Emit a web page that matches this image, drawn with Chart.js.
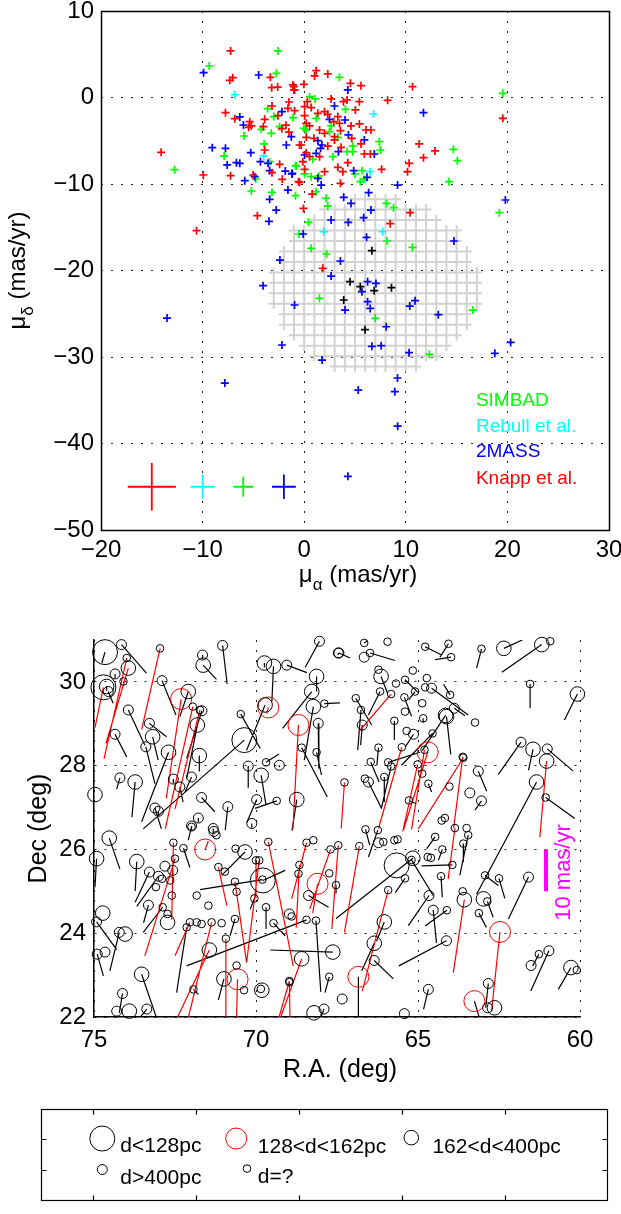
<!DOCTYPE html>
<html>
<head>
<meta charset="utf-8">
<title>Proper motions</title>
<script src="https://cdn.jsdelivr.net/npm/chart.js@4.4.1/dist/chart.umd.min.js"></script>
<style>
  html, body { margin: 0; padding: 0; background: #fff; }
  body { position: relative; width: 621px; height: 1214px; overflow: hidden; }
  canvas { position: absolute; left: 0; }
</style>
</head>
<body>
<canvas id="pmPlot" width="621" height="600" style="top:0"></canvas>
<canvas id="skyPlot" width="621" height="495" style="top:600px"></canvas>
<canvas id="keyBox" width="621" height="119" style="top:1095px"></canvas>
<script>
// ---------- proper-motion plane (mas/yr) ----------
const simbad = [[-2.58,5.38],[-9.35,3.64],[-2.75,2.79],[3.47,2.33],[-3.6,-1.29],[19.55,0.48],[0.53,0.1],[1.08,-0.17],[-3.0,-2.2],[-1.11,-2.33],[4.06,-1.37],[1.18,-2.41],[-4.22,-3.68],[-2.42,-3.37],[2.65,-3.29],[-0.03,-3.56],[0.2,-3.76],[-3.24,-4.14],[-5.92,-4.45],[2.49,-3.95],[3.31,-4.6],[-3.95,-5.37],[4.78,-5.61],[7.39,-5.11],[7.49,-6.07],[4.22,-6.26],[4.78,-6.26],[-7.88,-6.76],[2.82,-6.84],[0.85,-7.15],[-0.78,-7.92],[-12.78,-8.34],[-3.4,-7.42],[-0.85,-7.88],[14.68,-5.99],[15.07,-7.3],[14.25,-9.73],[5.69,-8.46],[5.0,-8.84],[5.53,-9.73],[5.92,-9.46],[0.04,-8.84],[0.69,-9.15],[1.44,-9.07],[-4.77,-9.42],[-5.2,-10.81],[-3.17,-10.97],[-0.85,-11.35],[1.17,-10.89],[2.15,-11.66],[2.32,-12.55],[19.21,-13.32],[8.1,-12.24],[8.79,-12.74],[0.42,-14.43],[-0.52,-15.78],[8.14,-16.59],[10.65,-17.32],[0.68,-17.44],[2.19,-18.09],[1.5,-23.22],[16.6,-24.57],[6.99,-25.53],[12.32,-29.69]];
const rebull = [[-6.83,0.33],[6.83,-1.91],[-3.99,-6.76],[6.48,-8.57],[1.93,-15.51],[7.71,-15.51]];
const twoMass = [[-9.9,2.87],[-4.48,2.6],[4.29,0.87],[-2.19,-1.64],[2.98,-0.98],[11.74,-1.75],[-6.34,-2.25],[-5.98,-3.18],[2.49,-2.52],[4.02,-2.6],[-1.27,-4.53],[-1.76,-5.49],[4.35,-4.33],[5.92,-4.91],[1.34,-4.99],[1.74,-5.49],[1.61,-5.88],[1.18,-6.45],[0.04,-6.65],[3.37,-6.26],[6.9,-6.53],[-9.05,-5.8],[-7.75,-5.88],[-5.26,-6.38],[-7.58,-7.8],[-6.67,-7.53],[-6.34,-7.61],[-4.31,-7.42],[-3.56,-7.61],[-3.4,-8.46],[-1.86,-8.5],[-1.21,-8.84],[-4.87,-9.15],[-5.85,-9.61],[4.87,-8.46],[6.18,-9.23],[1.34,-9.34],[1.67,-10.12],[9.19,-10.12],[-1.17,-8.77],[-3.4,-11.77],[-1.6,-10.7],[3.89,-11.54],[4.61,-12.24],[6.34,-11.0],[19.8,-11.85],[6.57,-13.01],[-2.75,-13.01],[-3.47,-14.32],[2.65,-14.16],[4.34,-14.43],[5.85,-13.89],[-0.1,-15.78],[6.14,-16.17],[14.74,-16.59],[3.56,-18.9],[-2.39,-18.79],[2.65,-20.64],[-4.05,-21.76],[6.24,-21.29],[7.06,-21.49],[5.68,-22.45],[6.24,-23.6],[6.5,-24.38],[-0.95,-23.99],[4.02,-24.57],[10.91,-23.49],[10.39,-24.11],[13.2,-25.11],[8.07,-26.5],[-2.19,-28.61],[6.66,-28.77],[7.58,-28.69],[10.32,-29.5],[18.76,-29.58],[20.32,-28.31],[1.76,-30.35],[-7.81,-33.01],[9.18,-32.43],[5.32,-33.82],[8.92,-34.01],[-13.5,-25.5],[9.2,-38.0],[4.3,-43.8]];
const knapp = [[-7.25,5.38],[-3.33,2.33],[-7.03,2.29],[-7.32,1.99],[-3.2,1.14],[-2.61,1.21],[-1.11,1.45],[-0.95,0.87],[1.18,3.1],[2.32,2.72],[1.02,2.49],[4.55,1.64],[5.59,1.37],[-0.03,1.52],[10.66,1.25],[8.21,-0.33],[2.65,-0.17],[4.22,-0.29],[3.86,-0.48],[5.43,-0.48],[-1.5,-0.52],[-3.17,-0.98],[-1.6,-1.25],[-0.95,-1.52],[-7.75,-1.75],[-6.83,-2.45],[-2.58,-2.1],[-3.89,-2.52],[-4.02,-3.37],[-5.36,-2.79],[-5.2,-3.29],[-5.46,-3.45],[0.04,-1.06],[0.3,-0.48],[0.69,-1.17],[5.04,-1.44],[19.55,-2.41],[0.04,-2.1],[1.34,-1.83],[2.0,-1.64],[2.32,-1.95],[3.31,-2.21],[2.91,-2.79],[3.47,-2.99],[4.61,-3.29],[5.43,-3.06],[6.08,-3.76],[6.57,-3.76],[0.2,-2.99],[0.53,-3.29],[1.51,-3.76],[2.0,-4.14],[2.98,-4.53],[3.57,-3.83],[4.68,-4.72],[0.2,-4.6],[0.95,-4.72],[-0.29,-5.49],[0.2,-6.38],[5.59,-5.37],[2.32,-5.61],[2.98,-4.91],[3.63,-5.76],[5.92,-6.53],[6.51,-6.53],[1.51,-6.84],[0.53,-6.84],[-0.13,-7.42],[10.33,-7.61],[11.31,-5.37],[12.88,-6.18],[11.74,-6.96],[10.17,-8.57],[4.29,-7.53],[7.62,-8.3],[3.31,-8.07],[3.8,-8.57],[2.0,-8.57],[0.04,-8.3],[-0.45,-9.81],[3.57,-9.92],[-14.08,-6.34],[-0.46,-5.49],[-3.89,-6.07],[-2.42,-7.73],[-3.17,-8.69],[-9.93,-8.96],[-7.25,-9.04],[-5.03,-8.96],[-2.16,-9.46],[-0.56,-9.73],[-1.01,1.25],[-1.01,0.87],[0.78,-11.16],[10.42,-13.32],[-0.07,-12.82],[-4.61,-13.66],[8.46,-14.59],[1.83,-19.75],[-10.6,-15.4],[-2.2,-3.6],[-1.5,-4.0],[-1.8,-3.2]];
const clusterGroup = [[6.66,-17.71],[4.51,-21.29],[5.52,-21.87],[6.89,-22.33],[8.59,-21.99],[3.89,-23.41],[5.98,-26.84]];

// typical errors per catalogue: Knapp, Rebull, SIMBAD, 2MASS
const errCentreX = [-15, -10, -6, -2];
const errCentreY = -45;
const errHalfX = [2.37, 1.17, 0.97, 1.17];
const errHalfY = [2.76, 1.39, 1.16, 1.41];

const surveyNames = ['SIMBAD', 'Rebull et al.', '2MASS', 'Knapp et al.'];

// region of the moving group in the pm plane
const fieldCentre = [7, -21.9];
const fieldRadius = 10.4;

const pmTicksX = [-20, -10, 0, 10, 20, 30];
const pmTicksY = [10, 0, -10, -20, -30, -40, -50];

// ---------- sky positions: [RA deg, Dec deg, pmRA, pmDec (mas/yr), Knapp pm?] ----------
const nearStars = [[74.66,30.71,1.0,-2.6,0],[74.71,29.87,2.6,-9.6,1],[70.36,28.61,31.2,-21.2,0],[69.79,25.26,-6.9,2.4,0],[65.66,25.62,0,0,0]];
const taurusStars = [[72.31,29.59,4.6,-23.7,1],[69.62,29.39,0.5,-1.5,1],[68.69,28.97,1.7,-24.8,1],[64.70,28.32,7.5,-18.6,1],[70.57,22.90,0.3,-9.6,1],[68.10,25.18,1.5,-7,1],[71.57,26.00,-1,2,1],[66.84,22.96,0,-9.8,0],[62.47,24.03,2.6,-19,1],[63.26,22.38,-1.7,-4.4,0]];
const midStars = [[74.61,29.89,0,-1,0],[73.94,30.33,6.9,-18.0,1],[73.19,28.69,-1.7,-5.6,0],[72.70,28.32,8.3,-16.6,0],[72.09,29.77,2.6,-6.0,0],[71.63,30.40,-4.1,-3.4,0],[71.81,28.97,3.3,-12.8,0],[71.75,28.24,0,-3.8,0],[69.74,30.45,0,-1,0],[69.46,30.37,0.5,-8.4,0],[68.13,30.13,0,-3.6,0],[68.28,29.77,9,-8.8,0],[68.23,29.41,2.8,-12.8,0],[69.72,29.45,5.7,-10.8,0],[68.74,27.19,1.5,-7.4,0],[69.84,27.77,-1.5,-7.2,0],[73.73,27.61,1,-8.4,0],[74.97,27.31,0,0,0],
  [62.35,30.80,-5.7,2,0],[61.18,30.89,12.3,-6.6,0],[66.14,30.13,-2,-4,0],[64.12,29.17,-1.3,-9,0],[64.15,29.20,7.2,-8.4,0],[60.08,29.71,4,-6.2,0],[61.45,28.39,1.4,-5,0],[61.03,28.11,2.1,-18.2,1],[61.34,27.61,18.5,-26.8,0],
  [74.53,26.27,-3.3,-7.4,0],[74.92,25.78,0.5,-6.8,0],[73.68,25.71,0.5,-7,0],[74.73,24.48,0,0,0],[74.04,23.98,0,0,0],[73.53,23.02,-4.6,-10.4,0],[73.91,22.14,0,0,0],[72.73,24.26,0,0,0],[71.44,23.60,9.9,-16.2,1],[70.99,22.91,1.7,-5,0],[69.82,22.64,0,0,0],[68.59,23.39,6.7,-14.4,1],[67.63,23.55,19.3,0.5,0],[68.21,22.10,0,0,0],[70.34,25.94,7.2,-5.6,0],
  [65.16,25.79,23.7,-14.4,0],[66.04,24.27,2.4,-4.6,0],[66.35,23.76,3.9,-6.6,0],[63.57,24.80,3.4,-17.4,1],[62.98,24.82,0,0,0],[62.64,22.22,0,0,0],[60.28,23.18,3.9,-5.2,0]];
const farStars = [[74.15,30.89,-7.7,-6.8,0],[74.35,30.19,0,-1,0],[74.56,29.77,-1.5,-2.8,0],[74.35,28.75,-3.6,-5.4,0],[73.94,29.33,-5.1,-8.4,0],[73.29,29.01,-5.3,-3.2,0],[73.40,28.45,-2.8,-8.8,0],[72.90,30.03,-4.3,-8.2,0],[71.65,30.64,0,-1,0],[71.67,29.31,4.7,-11.4,0],[71.99,27.73,2,-3.6,0],[72.35,27.49,-1,-3.6,0],[72.55,27.68,0,-1,0],[73.12,26.99,-2,-5,0],[73.01,26.91,0,-1,0],[71.03,30.87,-1.4,-9.2,0],[69.05,30.40,-6.2,-1.8,0],[68.04,30.97,4.4,-6.2,0],[68.08,29.01,-0.2,-10.8,0],[67.46,30.69,0,-0.5,0],[70.24,27.99,0,-5.2,0],[69.28,28.01,0,-0.5,0],[69.98,27.19,3,-5.4,0],[70.87,27.02,0.8,-5.6,0],[71.68,27.24,-4.1,-3.4,0],[74.20,27.71,1,-2.7,0],[71.78,26.75,0,-1,0],[71.99,26.56,0,-1,0],[71.32,26.50,0,-1,0],[70.13,26.62,0,-1,0],
  [67.44,30.69,-3.4,-1.2,0],[66.66,30.59,0,0,0],[64.58,29.85,-11.3,-6.4,0],[66.72,28.97,0.5,-4.8,0],[63.88,29.37,-3.3,-1.8,0],[65.14,28.75,2.5,-3,0],[66.53,27.61,-4.1,-6.4,0],[63.14,27.87,-2.6,-4.8,0],[63.40,27.35,0,0,0],[63.04,27.16,2,-2.2,0],[61.82,28.56,7,-7.7,0],[61.01,28.40,-8,-5.3,0],
  [73.29,25.46,4.4,-7.2,0],[72.81,25.60,0,0,0],[73.01,25.36,6.7,-7.2,0],[72.57,25.50,0,-3,0],[73.32,24.67,1.5,-4.2,0],[74.92,24.27,-6.2,-6.6,0],[74.22,24.02,2.9,-9.2,0],[74.90,23.50,-1.9,-5.2,0],[74.66,23.55,0,0,0],[74.12,22.56,1,-4.6,0],[74.30,22.14,0,0,0],[73.37,22.19,2.3,-2.2,0],[67.90,22.19,1.2,-2.4,0],[68.97,24.46,0,0,0],[68.38,24.90,-6.2,-2.8,0],[71.30,26.43,0,0,0],
  [66.22,26.16,0,0,0],[64.66,24.90,6.4,-7.2,0],[64.53,24.55,-1,-7.8,0],[66.35,23.35,-5.9,-4.4,0],[64.12,23.82,14.7,-6,0],[61.59,25.34,6.2,-10,0],[62.83,22.80,0.8,-5.8,0],[62.85,22.22,0,0,0],[64.68,22.66,1.5,-4.8,0],[67.34,22.43,0,0,0],[65.42,22.08,0,0,0],[61.51,23.23,0,0,0],[60.96,23.58,5.6,-9.6,0]];
const unknownStars = [[73.99,30.57,7.0,-24.1,1],[74.09,30.01,0,-0.5,0],[72.96,30.80,5.7,-19.4,1],[71.95,29.41,8.5,-29.2,1],[71.73,29.33,7.7,-23.6,1],[67.89,29.48,-4.8,0.2,0],[70.47,29.23,-6,-8.2,0],[68.59,28.43,-7.9,-11.8,0],[68.13,28.32,-1.5,-5.4,0],[69.69,28.08,-4,2,0],[69.36,27.16,6.7,-1.8,0],
  [66.66,30.93,-1,0.5,0],[65.94,30.96,0,0,0],[66.48,30.69,-7.7,-1.8,0],[64.78,30.84,-5.1,-2,0],[64.06,30.91,2.6,-3.2,0],[63.98,30.59,4.9,-0.6,0],[63.04,30.79,1.5,-4.6,0],[60.92,30.97,0,0,0],[66.22,30.29,0,0,0],[65.16,30.27,0,0,0],[65.40,30.05,-4,-3,0],[65.68,29.96,0,0,0],[64.73,30.09,0,0,0],[64.78,29.87,0,0,0],[65.09,29.77,2,-2,0],[64.01,29.69,2,2.5,0],[61.54,29.95,0,-5.8,0],[66.92,29.61,-4.9,-6.4,0],[66.76,29.33,1,-9.6,0],[65.83,29.71,10,-9,1],[66.17,29.77,3.6,-5.6,0],[65.42,29.63,-2.2,-4.5,0],[65.40,29.29,0,0,0],[64.87,29.49,0,0,0],[64.84,29.13,0,-1,0],[63.24,29.03,0,0,0],[65.73,29.07,0,-4.6,0],[65.35,28.83,0,0,0],[64.55,28.77,9.6,-7.6,0],[64.80,28.38,4,-19,1],[63.60,28.19,13.9,-17,1],[63.62,28.21,2.8,-17,1],[65.50,28.44,7.2,-19.4,1],[66.22,28.43,0.5,-4.2,0],[66.46,28.09,-2.6,-4.8,0],[65.92,28.08,-9.8,2.4,0],[65.83,27.98,3,-10,0],[66.04,27.73,0,-6,0],[66.64,27.69,0,0,0],[67.27,27.60,1,-11,1],[65.01,28.03,4.6,-16,1],[64.87,27.81,0,0,0],[64.68,27.57,-1,-2,0],[65.28,27.17,-2.3,-0.8,0],[64.03,27.50,0,0,0],[61.06,27.24,-9,-5,0],[64.17,26.75,0,0,0],[64.27,26.69,0,0,0],
  [72.90,25.30,0,0,0],[73.09,25.10,0,0,0],[72.65,25.26,0,0,0],[72.60,24.90,0,0,0],[72.88,24.62,6,-6,0],[72.73,24.46,0,0,0],[71.83,24.90,0,0,0],[72.14,24.14,3.1,-15.6,0],[72.04,24.26,4.6,-8,1],[71.83,24.26,0,0,0],[71.68,24.22,0,0,0],[71.47,24.66,0,0,0],[71.06,24.24,0,0,0],[71.37,24.26,7.2,-22.8,1],[70.93,23.87,0,-19.4,1],[70.65,24.34,1.5,-4,0],[70.60,23.23,0,0,0],[70.37,22.64,0,0,0],[69.85,22.67,0,0,0],[71.93,22.66,-1.5,-1.2,0],[68.97,22.86,3.4,-9.2,1],[68.97,22.83,-0.2,-9.2,1],[67.74,22.96,1.3,-3.8,0],[69.69,24.62,0,-5.2,0],[69.46,24.24,-3.6,-3,0],[68.90,24.40,0,0,0],[68.44,24.32,37,-11,0],[68.15,24.30,-1.5,-17,0],[67.74,25.43,0,0,0],[67.53,25.15,0,-2,0],[67.70,26.00,6.4,-14.2,1],[68.44,26.16,4.6,-13.4,1],[68.23,26.22,0,0,0],[68.69,25.42,0,0,0],[68.66,25.63,1,-15,1],[69.90,25.74,3.9,-24.4,1],[70.00,25.74,0,-9,1],[70.05,24.83,1.3,-2.6,0],[69.80,25.28,19.3,-2.4,0],[69.62,26.18,-7.7,-29.6,1],[70.65,25.23,-3.6,-19.3,1],[70.60,24.99,0,0,0],[70.63,26.02,0,0,0],[71.16,25.58,-2.6,-9.2,1],[70.96,25.47,0,0,0],[72.24,26.03,-2,-4.6,0],[72.55,26.16,0.5,-18.4,1],[72.50,25.78,9.3,-23.2,1],[71.99,26.54,1,-3.2,0],[71.22,26.34,0,0,0],
  [66.62,26.48,-1.3,-3.8,0],[66.24,26.46,2.9,-6.4,0],[66.07,26.18,0,0,0],[65.73,26.22,0,0,0],[65.63,26.24,0,0,0],[67.46,26.10,2,-20,1],[66.81,26.08,4.6,-20.6,1],[65.20,25.75,-6.7,-8.5,0],[64.47,26.30,2.6,-2.8,0],[64.25,26.00,1.2,-2.6,0],[64.70,25.82,0,0,0],[64.60,25.80,0,0,0],[63.94,25.63,9.5,-0.2,0],[63.86,26.51,2.1,-12.2,1],[64.29,25.36,-0.4,-5,0],[63.50,26.51,0,0,0],[63.45,26.34,2.6,-9.6,0],[63.60,26.14,0,-4.4,0],[65.40,25.31,3,-3.4,0],[65.92,25.03,8,-24.1,1],[64.11,24.55,6.7,-3.8,0],[63.62,25.00,0,0,0],[62.93,25.38,-4.1,-2.4,0],[62.50,25.31,-1.8,-4.8,0],[62.86,24.76,-1.8,-3.8,0],[63.12,24.48,-2.3,-3.4,0],[61.27,23.50,1.9,-2.8,0],[60.10,23.12,0,0,0]];

const raTicks = [75, 70, 65, 60];
const decTicks = [22, 24, 26, 28, 30];
const scaleBarRa = 61.05;
const scaleBarDec = [25, 26];   // 10 mas/yr
const scaleBarText = '10 mas/yr';

const distanceLabels = ['d<128pc', '128<d<162pc', '162<d<400pc', 'd>400pc', 'd=?'];

// ---------- styling ----------
const FONT = '"Liberation Sans", Arial, Helvetica, sans-serif';
Chart.defaults.font.family = FONT;
Chart.defaults.color = '#000';
Chart.defaults.animation = false;
Chart.defaults.responsive = false;
Chart.defaults.plugins.legend.display = false;
Chart.defaults.plugins.tooltip.enabled = false;

const surveyColors = ['#00ff00', '#00ffff', '#0000ff', '#ff0000'];
const errColors = ['#ff0000', '#00ffff', '#00ff00', '#0000ff'];
const classRadius = [12.5, 10.5, 7.3, 5, 3.8];
const classColor = ['#000', '#ff0000', '#000', '#000', '#000'];
const MAGENTA = '#ff00ff';
const GRID = '#222';

const minus = v => (v < 0 ? '\u2212' + Math.abs(v) : String(v));
const toPts = rows => rows.map(([x, y]) => ({ x, y }));
const fixWidth = w => s => { s.width = w; s.paddingTop = 0; s.paddingBottom = 0; };
const fixHeight = h => s => { s.height = h; s.paddingLeft = 0; s.paddingRight = 0; };
const useTicks = list => s => { s.ticks = list.map(value => ({ value })); };

// text with an optional subscript part, centred on (x, y baseline)
function drawLabel(ctx, parts, x, y, size, angle = 0, color = '#000') {
  ctx.save();
  ctx.translate(x, y);
  ctx.rotate(angle);
  ctx.fillStyle = color;
  ctx.textBaseline = 'alphabetic';
  ctx.textAlign = 'left';
  const fontOf = sub => `${sub ? Math.round(size * 0.72) : size}px ${FONT}`;
  let width = 0;
  parts.forEach(([t, sub]) => { ctx.font = fontOf(sub); width += ctx.measureText(t).width; });
  let cx = -width / 2;
  parts.forEach(([t, sub]) => {
    ctx.font = fontOf(sub);
    ctx.fillText(t, cx, sub ? size * 0.32 : 0);
    cx += ctx.measureText(t).width;
  });
  ctx.restore();
}

// ---------- top: proper motion plane ----------
const crossSet = (rows, color) => ({
  data: toPts(rows), pointStyle: 'cross', pointRadius: 4, pointBorderWidth: 1.7,
  pointBorderColor: color, pointBackgroundColor: color, clip: false,
});

function errorBars(i) {
  const cx = errCentreX[i], cy = errCentreY;
  return {
    data: [{ x: cx - errHalfX[i], y: cy }, { x: cx + errHalfX[i], y: cy }, { x: null, y: null },
           { x: cx, y: cy - errHalfY[i] }, { x: cx, y: cy + errHalfY[i] }],
    showLine: true, spanGaps: false, pointRadius: 0, borderWidth: 1.8,
    borderColor: errColors[i], clip: false,
  };
}

const pmDecor = {
  id: 'pmDecor',
  beforeDatasetsDraw(chart) {
    const { ctx, scales: { x, y } } = chart;
    const hx = Math.abs(x.getPixelForValue(0.5) - x.getPixelForValue(0));
    const hy = Math.abs(y.getPixelForValue(0.605) - y.getPixelForValue(0));
    ctx.save();
    ctx.strokeStyle = '#d2d2d2';
    ctx.lineWidth = 2;
    ctx.beginPath();
    for (let gx = -3; gx <= 17.5; gx += 1) {
      for (let gy = -11.75; gy >= -32.5; gy -= 1.21) {
        const dx = gx - fieldCentre[0], dy = gy - fieldCentre[1];
        if (dx * dx + dy * dy > fieldRadius * fieldRadius) continue;
        const px = x.getPixelForValue(gx), py = y.getPixelForValue(gy);
        ctx.moveTo(px - hx, py); ctx.lineTo(px + hx, py);
        ctx.moveTo(px, py - hy); ctx.lineTo(px, py + hy);
      }
    }
    ctx.stroke();
    ctx.restore();
  },
  afterDraw(chart) {
    const { ctx, chartArea: a, scales: { x, y } } = chart;
    ctx.save();
    ctx.strokeStyle = '#000';
    ctx.lineWidth = 1.5;
    ctx.strokeRect(Math.round(a.left) + 0.5, Math.round(a.top) + 0.5,
      Math.round(a.right - a.left), Math.round(a.bottom - a.top));
    ctx.font = `19px ${FONT}`;
    ctx.textBaseline = 'middle';
    ctx.textAlign = 'left';
    const rowsY = [-35.05, -38.1, -41.0, -44.1];
    surveyNames.forEach((name, i) => {
      ctx.fillStyle = surveyColors[i];
      ctx.fillText(name, x.getPixelForValue(16.9), y.getPixelForValue(rowsY[i]));
    });
    ctx.restore();
    drawLabel(ctx, [['\u03bc', 0], ['\u03b1', 1], [' (mas/yr)', 0]], (a.left + a.right) / 2 + 3, 582, 24);
    drawLabel(ctx, [['\u03bc', 0], ['\u03b4', 1], [' (mas/yr)', 0]], 25, (a.top + a.bottom) / 2, 24, -Math.PI / 2);
  },
};

new Chart(document.getElementById('pmPlot'), {
  type: 'scatter',
  data: {
    datasets: [
      crossSet(clusterGroup, '#000'),
      crossSet(knapp, surveyColors[3]),
      crossSet(twoMass, surveyColors[2]),
      crossSet(rebull, surveyColors[1]),
      crossSet(simbad, surveyColors[0]),
      errorBars(0), errorBars(1), errorBars(2), errorBars(3),
    ],
  },
  options: {
    layout: { padding: { left: 0, right: 12, top: 11, bottom: 0 } },
    scales: {
      x: {
        type: 'linear', min: -20, max: 30,
        afterBuildTicks: useTicks(pmTicksX), afterFit: fixHeight(70),
        ticks: { font: { size: 24 }, padding: 6, maxRotation: 0, autoSkip: false, callback: minus },
        grid: { color: GRID, lineWidth: 1, drawTicks: false },
        border: { display: false, dash: [2, 8] },
      },
      y: {
        type: 'linear', min: -50, max: 10,
        afterBuildTicks: useTicks(pmTicksY), afterFit: fixWidth(101),
        ticks: { font: { size: 24 }, padding: 7, autoSkip: false, callback: minus },
        grid: { color: GRID, lineWidth: 1, drawTicks: false },
        border: { display: false, dash: [2, 8] },
      },
    },
  },
  plugins: [pmDecor],
});

// ---------- middle: positions with proper-motion vectors ----------
const starClasses = [nearStars, taurusStars, midStars, farStars, unknownStars];

function vectorSegments(knappOnly) {
  const out = [];
  starClasses.forEach(rows => rows.forEach(([ra, dec, pr, pd, k]) => {
    if ((k === 1) !== knappOnly || (!pr && !pd)) return;
    out.push({ x: ra, y: dec }, { x: ra + pr / 10, y: dec + pd / 10 }, { x: null, y: null });
  }));
  return out;
}

const circlePts = [], circleR = [], circleC = [];
starClasses.forEach((rows, c) => rows.forEach(([ra, dec]) => {
  circlePts.push({ x: ra, y: dec });
  circleR.push(classRadius[c]);
  circleC.push(classColor[c]);
}));

const skyDecor = {
  id: 'skyDecor',
  afterDraw(chart) {
    const { ctx, chartArea: a, scales: { x, y } } = chart;
    drawLabel(ctx, [['R.A. (deg)', 0]], (a.left + a.right) / 2 + 3, 477, 25);
    drawLabel(ctx, [['Dec (deg)', 0]], 46, (a.top + a.bottom) / 2, 25, -Math.PI / 2);
    ctx.save();
    ctx.translate(x.getPixelForValue(60.5), y.getPixelForValue(25.45));
    ctx.rotate(-Math.PI / 2);
    ctx.font = `22px ${FONT}`;
    ctx.fillStyle = MAGENTA;
    ctx.textAlign = 'center';
    ctx.textBaseline = 'middle';
    ctx.fillText(scaleBarText, 0, 0);
    ctx.restore();
  },
};

new Chart(document.getElementById('skyPlot'), {
  type: 'scatter',
  data: {
    datasets: [
      {
        data: circlePts, pointStyle: 'circle', pointRadius: circleR, pointBorderColor: circleC,
        pointBackgroundColor: 'rgba(0,0,0,0)', pointBorderWidth: 1, clip: false,
      },
      { data: vectorSegments(true), showLine: true, spanGaps: false, pointRadius: 0, borderWidth: 1.2, borderColor: '#ff0000' },
      { data: vectorSegments(false), showLine: true, spanGaps: false, pointRadius: 0, borderWidth: 1.2, borderColor: '#000' },
      {
        data: [{ x: scaleBarRa, y: scaleBarDec[0] }, { x: scaleBarRa, y: scaleBarDec[1] }],
        showLine: true, pointRadius: 0, borderWidth: 4, borderColor: MAGENTA, borderCapStyle: 'butt',
      },
    ],
  },
  options: {
    layout: { padding: { left: 0, right: 41, top: 40, bottom: 0 } },
    scales: {
      x: {
        type: 'linear', min: 60, max: 75, reverse: true,
        afterBuildTicks: useTicks(raTicks), afterFit: fixHeight(78),
        ticks: { font: { size: 24 }, padding: 9, maxRotation: 0, autoSkip: false },
        grid: { color: GRID, lineWidth: 1, drawTicks: false },
        border: { display: true, color: '#000', width: 1.5, dash: [2, 8] },
      },
      y: {
        type: 'linear', min: 22, max: 31,
        afterBuildTicks: useTicks(decTicks), afterFit: fixWidth(94),
        ticks: { font: { size: 24 }, padding: 8, autoSkip: false },
        grid: { color: GRID, lineWidth: 1, drawTicks: false },
        border: { display: true, color: '#000', width: 1.5, dash: [2, 8] },
      },
    },
  },
  plugins: [skyDecor],
});

// ---------- bottom: distance key ----------
const keyMarkerAt = [[1.19, 2.02], [3.79, 2.02], [7.19, 2.05], [1.19, 1.01], [4.0, 1.04]];
const keyTextAt = [[1.54, 1.76], [4.21, 1.74], [7.6, 1.74], [1.54, 0.73], [4.21, 0.76]];

const keyDecor = {
  id: 'keyDecor',
  afterDraw(chart) {
    const { ctx, chartArea: a, scales: { x, y } } = chart;
    const L = Math.round(a.left) + 0.5, R = Math.round(a.right) - 0.5;
    const T = Math.round(a.top) + 0.5, B = Math.round(a.bottom) - 0.5;
    ctx.save();
    ctx.strokeStyle = '#000';
    ctx.lineWidth = 1.2;
    ctx.strokeRect(L, T, R - L, B - T);
    ctx.beginPath();
    [1, 3, 5, 7, 9].forEach(v => {
      const px = Math.round(x.getPixelForValue(v)) + 0.5;
      ctx.moveTo(px, T); ctx.lineTo(px, T + 5);
      ctx.moveTo(px, B); ctx.lineTo(px, B - 5);
    });
    [1, 2].forEach(v => {
      const py = Math.round(y.getPixelForValue(v)) + 0.5;
      ctx.moveTo(L, py); ctx.lineTo(L + 5, py);
      ctx.moveTo(R, py); ctx.lineTo(R - 5, py);
    });
    ctx.stroke();
    ctx.fillStyle = '#000';
    ctx.font = `21px ${FONT}`;
    ctx.textAlign = 'left';
    ctx.textBaseline = 'middle';
    distanceLabels.forEach((t, i) => {
      ctx.fillText(t, x.getPixelForValue(keyTextAt[i][0]), y.getPixelForValue(keyTextAt[i][1]));
    });
    ctx.restore();
  },
};

new Chart(document.getElementById('keyBox'), {
  type: 'scatter',
  data: {
    datasets: [{
      data: keyMarkerAt.map(([x, y]) => ({ x, y })),
      pointStyle: 'circle', pointRadius: classRadius, pointBorderColor: classColor,
      pointBackgroundColor: 'rgba(0,0,0,0)', pointBorderWidth: 1, clip: false,
    }],
  },
  options: {
    layout: { padding: { left: 41, right: 8, top: 8, bottom: 1 } },
    scales: {
      x: { type: 'linear', min: 0, max: 11, display: false },
      y: { type: 'linear', min: 0, max: 3, display: false },
    },
  },
  plugins: [keyDecor],
});
</script>
</body>
</html>
